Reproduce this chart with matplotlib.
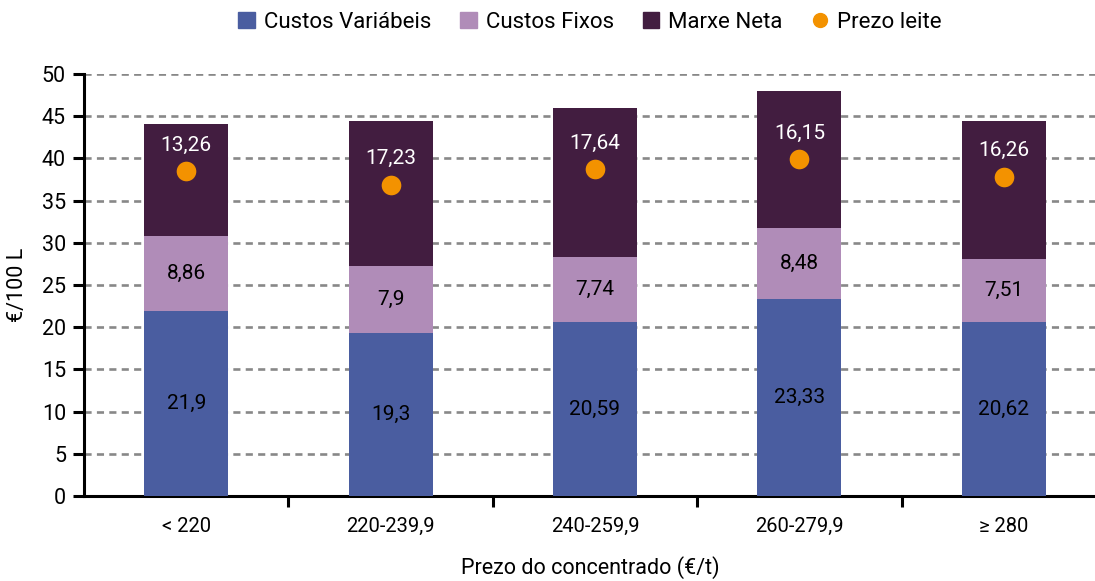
import matplotlib
matplotlib.use('Agg')
import matplotlib.pyplot as plt
import numpy as np
from matplotlib.lines import Line2D
from matplotlib.patches import Patch

plt.rcParams['font.family'] = ['Roboto', 'DejaVu Sans']

categories = ['< 220', '220-239,9', '240-259,9', '260-279,9', '≥ 280']
custos_variabeis = [21.9, 19.3, 20.59, 23.33, 20.62]
custos_fixos = [8.86, 7.9, 7.74, 8.48, 7.51]
marxe_neta = [13.26, 17.23, 17.64, 16.15, 16.26]
prezo_leite = [38.5, 36.9, 38.7, 39.9, 37.8]

c_var = '#4a5da0'
c_fix = '#b08cb8'
c_mar = '#421d40'
c_leite = '#f39200'


def fmt(v):
    return f'{v:g}'.replace('.', ',')


fig = plt.figure(figsize=(10.95, 5.81), dpi=100)
ax = fig.add_axes([84 / 1095, 85 / 581, 1022 / 1095, 422 / 581])

x = np.arange(len(categories))
w = 0.41
var = np.array(custos_variabeis)
fix = np.array(custos_fixos)
mar = np.array(marxe_neta)
leite = np.array(prezo_leite)

ax.bar(x, var, w, color=c_var, zorder=3)
ax.bar(x, fix, w, bottom=var, color=c_fix, zorder=3)
ax.bar(x, mar, w, bottom=var + fix, color=c_mar, zorder=3)
ax.scatter(x, leite, s=200, color=c_leite, zorder=4, linewidths=0)

for i in range(len(x)):
    ax.text(x[i], var[i] / 2, fmt(var[i]), ha='center', va='center', fontsize=15, color='black', zorder=5)
    ax.text(x[i], var[i] + fix[i] / 2, fmt(fix[i]), ha='center', va='center', fontsize=15, color='black', zorder=5)
    ax.text(x[i], leite[i] + 3.1, fmt(mar[i]), ha='center', va='center', fontsize=15, color='white', zorder=5)

ax.set_xlim(-0.5, 4.5)
ax.set_ylim(0, 50)
ax.set_yticks(range(0, 51, 5))
ax.yaxis.grid(True, color='#888888', linestyle=(0, (2.7, 2.0)), linewidth=1.9, zorder=0)
ax.set_axisbelow(True)

ax.set_xticks(x)
ax.set_xticklabels(categories, fontsize=14.5)
ax.tick_params(axis='x', length=0, pad=15)
ax.set_xticks(np.arange(0.5, 4.5, 1), minor=True)
ax.tick_params(axis='x', which='minor', length=8, width=2.2, direction='out')
ax.tick_params(axis='y', length=8, width=2.2, direction='out', labelsize=15.5, pad=5)

for s in ['top', 'right']:
    ax.spines[s].set_visible(False)
for s in ['left', 'bottom']:
    ax.spines[s].set_linewidth(2.2)

ax.set_ylabel('€/100 L', fontsize=15.5)
ax.yaxis.set_label_coords(-0.055, 0.5)
ax.set_xlabel('Prezo do concentrado (€/t)', fontsize=15.5)
ax.xaxis.set_label_coords(506 / 1022, -0.143)

handles = [
    Patch(color=c_var, label='Custos Variábeis'),
    Patch(color=c_fix, label='Custos Fixos'),
    Patch(color=c_mar, label='Marxe Neta'),
    Line2D([], [], marker='o', color=c_leite, linestyle='none', markersize=10, label='Prezo leite'),
]
fig.legend(handles=handles, loc='center', bbox_to_anchor=(590 / 1095, 1 - 22 / 581), ncol=4,
           frameon=False, fontsize=16, handlelength=0.75, handleheight=0.75, handletextpad=0.4,
           columnspacing=1.3)

fig.savefig('out.png', dpi=100)
